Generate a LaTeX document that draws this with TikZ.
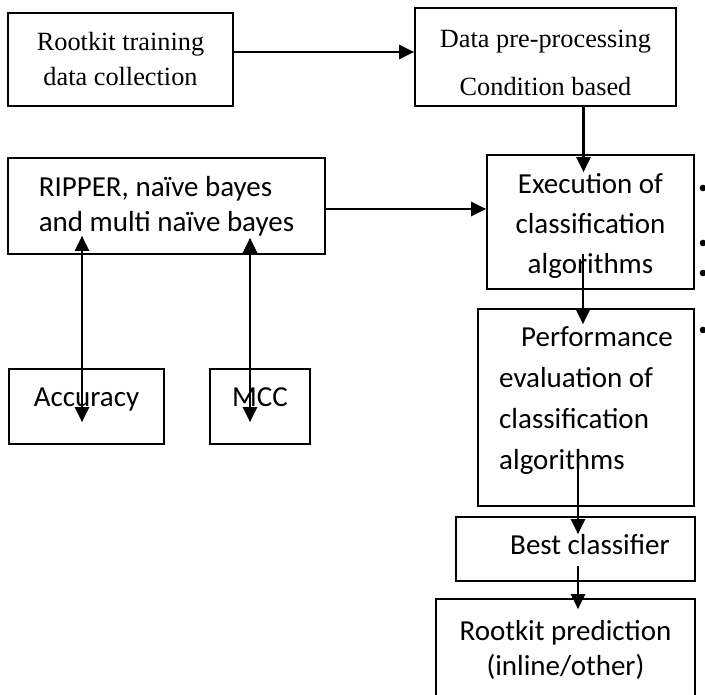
\documentclass[tikz,border=0pt]{standalone}
\usepackage{fontspec}
\setmainfont{Liberation Serif}
\newfontfamily\calibri{Carlito}
\usetikzlibrary{arrows.meta}

\begin{document}
\begin{tikzpicture}[x=1pt, y=-1pt,
        box/.style = {draw, line width=1.7pt, inner sep=0, align=center},
        serif/.style = {font=\fontsize{26.3}{35}\selectfont},
        sans/.style = {font=\calibri\fontsize{29}{40}\selectfont},
        flow/.style = {line width=2.3pt, -{Triangle[length=15pt, width=14pt]}},
        both/.style = {line width=2.3pt, {Triangle[length=15pt, width=14pt]}-{Triangle[length=15pt, width=14pt]}}]

    \useasboundingbox (0,0) rectangle (705,695);

    \node[box, serif, minimum width=225, minimum height=93]  (collect) at (120.5,59.5) {Rootkit training\\data collection};
    \node[box, serif, font=\fontsize{26.3}{48}\selectfont, minimum width=261, minimum height=98] (prep) at (545.5,57) {\rule{0pt}{30pt}Data pre-processing\\Condition based};
    \node[box, sans, minimum width=207, minimum height=134] (exec) at (590.5,222) {\rule{0pt}{28pt}Execution of\\classification\\algorithms};
    \node[box, sans, font=\calibri\fontsize{29}{35}\selectfont, align=left, minimum width=317, minimum height=96] (algos) at (166.5,206) {RIPPER, naïve bayes\\and multi naïve bayes};
    \node[box, sans, minimum width=155, minimum height=75]  (acc)  at (86.5,406.5) {Accuracy\rule[-18pt]{0pt}{0pt}};
    \node[box, sans, minimum width=100, minimum height=75]  (mcc)  at (260,406.5)  {MCC\rule[-18pt]{0pt}{0pt}};
    \node[box, sans, font=\calibri\fontsize{29}{41}\selectfont, align=left, minimum width=216, minimum height=197] (perf) at (586,407.5) {\hspace*{22pt}Performance\\evaluation of\\classification\\algorithms\rule[-19pt]{0pt}{0pt}};
    \node[box, sans, minimum width=239, minimum height=64]  (best) at (575.5,549) {\hspace*{29pt}Best classifier\rule[-10pt]{0pt}{0pt}};
    \node[box, sans, font=\calibri\fontsize{29}{35}\selectfont, minimum width=259, minimum height=102] (pred) at (565.5,650) {Rootkit prediction\\(inline/other)};

    \draw[flow] ([yshift=7.5pt]collect.east) -- ([yshift=7.5pt]collect.east -| prep.west);
    \draw[flow, shorten >=-18pt] ([xshift=38pt]prep.south) -- ([xshift=38pt]prep.south |- exec.north);
    \draw[flow] ([yshift=-3pt]algos.east) -- ([yshift=-3pt]algos.east -| exec.west);
    \draw[both, shorten <=-19pt, shorten >=-54pt] ([xshift=-4.5pt]acc.north |- algos.south) -- ([xshift=-4.5pt]acc.north);
    \draw[both, shorten <=-17pt, shorten >=-54pt] ([xshift=-10pt]mcc.north |- algos.south) -- ([xshift=-10pt]mcc.north);
    \draw[flow, shorten <=-36pt, shorten >=-16pt] ([xshift=-7.5pt]exec.south) -- ([xshift=-7.5pt]exec.south |- perf.north);
    \draw[flow, shorten <=-54pt, shorten >=-18pt] ([xshift=-8pt]perf.south) -- ([xshift=-8pt]perf.south |- best.north);
    \draw[flow, shorten <=-16pt, shorten >=-11pt] ([xshift=2.5pt]best.south) -- ([xshift=2.5pt]best.south |- pred.north);

    % stray list bullets at the right edge
    \foreach \y in {188,243,273,330}
        \fill (703,\y) circle (3.3pt);
\end{tikzpicture}
\end{document}
